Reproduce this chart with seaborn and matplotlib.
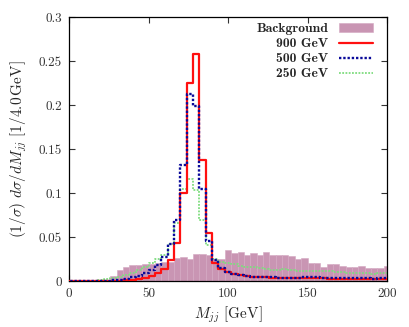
import numpy as np
import pandas as pd
import matplotlib
matplotlib.use("Agg")
import matplotlib.pyplot as plt
import seaborn as sns

# ---------------- data ----------------
centers = list(range(0, 201, 4))  # bin centres [GeV], 4 GeV bins

background = [0, 0, 0, 0, 0, 0, 0, 0.006, 0.012, 0.016, 0.018, 0.0185, 0.019, 0.0195,
              0.020, 0.022, 0.022, 0.026, 0.027, 0.025, 0.031, 0.031, 0.030, 0.025, 0.025,
              0.035, 0.0315, 0.033, 0.030, 0.032, 0.030, 0.033, 0.030, 0.029, 0.029, 0.028,
              0.025, 0.026, 0.021, 0.021, 0.0157, 0.019, 0.019, 0.0176, 0.0157, 0.0157,
              0.0176, 0.015, 0.015, 0.015, 0.0176]

sig900 = [0, 0, 0, 0, 0, 0, 0, 0.0003, 0.0005, 0.001, 0.0015, 0.002, 0.0035, 0.006,
          0.009, 0.014, 0.024, 0.043, 0.100, 0.225, 0.258, 0.138, 0.055, 0.021, 0.014,
          0.0105, 0.0085, 0.007, 0.006, 0.005, 0.0045, 0.004, 0.0035, 0.0035, 0.003,
          0.003, 0.003, 0.003, 0.0035, 0.003, 0.003, 0.0025, 0.0025, 0.0025, 0.0025,
          0.0025, 0.002, 0.002, 0.002, 0.002, 0.002]

sig500 = [0, 0, 0, 0, 0, 0, 0.0005, 0.001, 0.0015, 0.0025, 0.004, 0.006, 0.009, 0.013,
          0.018, 0.027, 0.042, 0.069, 0.132, 0.2125, 0.199, 0.105, 0.046, 0.024, 0.0145,
          0.0105, 0.008, 0.007, 0.006, 0.005, 0.0045, 0.004, 0.004, 0.0035, 0.0035,
          0.0035, 0.0035, 0.004, 0.0045, 0.004, 0.0035, 0.003, 0.003, 0.003, 0.003,
          0.003, 0.003, 0.003, 0.0025, 0.003, 0.003]

sig250 = [0, 0, 0, 0, 0.0005, 0.001, 0.002, 0.003, 0.005, 0.007, 0.009, 0.012, 0.016,
          0.020, 0.025, 0.030, 0.042, 0.066, 0.105, 0.116, 0.103, 0.069, 0.041, 0.025,
          0.022, 0.020, 0.019, 0.017, 0.0155, 0.0155, 0.0145, 0.0135, 0.013, 0.0125,
          0.0135, 0.0125, 0.0115, 0.0115, 0.0115, 0.011, 0.011, 0.011, 0.0105, 0.010,
          0.0095, 0.0095, 0.009, 0.009, 0.0085, 0.0095, 0.0095]

labels = ["Background", "900 GeV", "500 GeV", "250 GeV"]
xticks = [0, 50, 100, 150, 200]
yticks = [0, 0.05, 0.1, 0.15, 0.2, 0.25, 0.3]
ytick_labels = ["0", "0.05", "0.1", "0.15", "0.2", "0.25", "0.3"]

# ---------------- style ----------------
sns.set_theme(style="ticks")
plt.rcParams["font.family"] = ["cmr10", "DejaVu Sans"]
plt.rcParams["mathtext.fontset"] = "cm"
plt.rcParams["axes.formatter.use_mathtext"] = True

df = pd.DataFrame({"x": centers, "bg": background, "s900": sig900,
                   "s500": sig500, "s250": sig250})
hist_kw = dict(binwidth=4, binrange=(-2, 202))

fig = plt.figure(figsize=(4.09, 3.27), dpi=100)
ax = fig.add_axes([69 / 409, 1 - 281 / 327, 318 / 409, 264 / 327])

sns.histplot(data=df, x="x", weights="bg", element="bars", fill=True,
             color="#c995b3", alpha=1.0, edgecolor="#d4a8c2", linewidth=0.4,
             label=labels[0], ax=ax, zorder=1, **hist_kw)
sns.histplot(data=df, x="x", weights="s900", element="step", fill=False,
             color="#ff1010", linewidth=1.6, label=labels[1], ax=ax, zorder=3,
             **hist_kw)
sns.histplot(data=df, x="x", weights="s500", element="step", fill=False,
             color="#0a0a9a", linewidth=1.7, linestyle=(0, (1.0, 0.8)),
             label=labels[2], ax=ax, zorder=4, **hist_kw)
sns.histplot(data=df, x="x", weights="s250", element="step", fill=False,
             color="#7fdc7f", linewidth=1.3, linestyle=(0, (1.0, 0.8)),
             label=labels[3], ax=ax, zorder=2, **hist_kw)

ax.set_xlim(0, 200)
ax.set_ylim(0, 0.3)
ax.set_xticks(xticks)
ax.set_xticklabels([str(t) for t in xticks])
ax.set_yticks(yticks)
ax.set_yticklabels(ytick_labels)
ax.tick_params(direction="in", top=True, right=True, length=4, width=0.8,
               labelsize=9.5, pad=5, colors="#333333")
for s in ax.spines.values():
    s.set_linewidth(0.9)
    s.set_color("black")

ax.set_xlabel(r"$M_{jj}$ [GeV]", fontsize=11, labelpad=3)
ax.set_ylabel(r"$(1/\sigma)\ d\sigma/dM_{jj}\ [1/4.0\,\mathrm{GeV}]$", fontsize=11,
              labelpad=7)

handles, labs = ax.get_legend_handles_labels()
order = [labs.index(l) for l in labels]
leg = ax.legend([handles[i] for i in order], [labs[i] for i in order],
                loc="upper right", bbox_to_anchor=(0.955, 0.978), frameon=False,
                markerfirst=False, handlelength=2.5, handletextpad=0.75,
                labelspacing=0.18, borderpad=0, borderaxespad=0,
                prop={"family": "cmb10", "size": 9.8})

fig.savefig("out.png", dpi=100)
